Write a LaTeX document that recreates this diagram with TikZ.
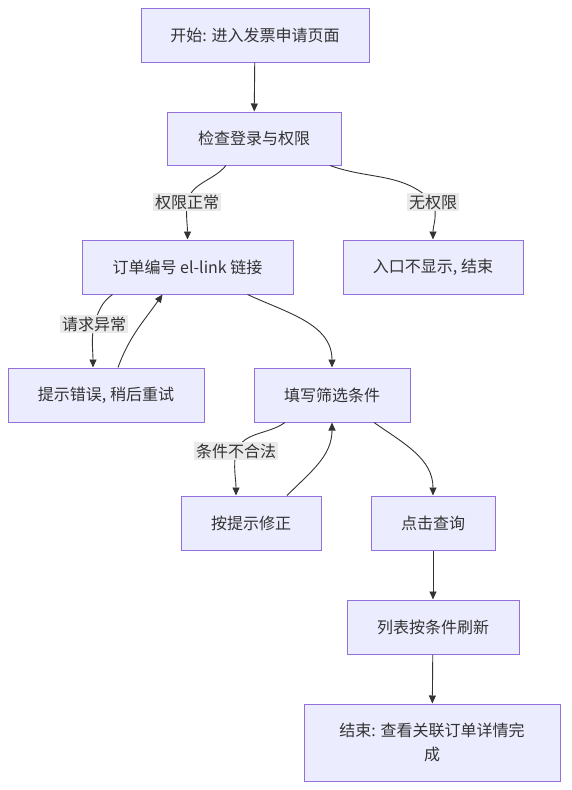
\documentclass[tikz,border=0pt]{standalone}
\usepackage{fontspec}
\setmainfont{Noto Sans CJK SC}
\usetikzlibrary{arrows.meta}
\definecolor{boxfill}{RGB}{236,236,255}
\definecolor{boxline}{RGB}{147,112,219}
\definecolor{lblbg}{RGB}{234,234,234}
\definecolor{linecol}{RGB}{51,51,51}
\begin{document}
\begin{tikzpicture}[x=1pt,y=1pt]
\tikzset{
box/.style={rectangle,draw=boxline,fill=boxfill,line width=1pt,inner sep=0pt,align=center,text=linecol},
lbl/.style={fill=lblbg,inner sep=2pt,text=linecol},
edge/.style={->,> = {Triangle[length=8pt,width=7pt]},color=linecol,line width=0.9pt},
font={\fontsize{16pt}{24pt}\selectfont}
}
\useasboundingbox (0,0) rectangle (571,-790);

\node[box,minimum width=228pt,minimum height=54pt] (start) at (255,-35) {开始: 进入发票申请页面};
\node[box,minimum width=174pt,minimum height=53pt] (check) at (254,-138.5) {检查登录与权限};
\node[box,minimum width=211pt,minimum height=54pt] (order) at (187.5,-267) {订单编号 el-link 链接};
\node[box,minimum width=180pt,minimum height=54pt] (noentry) at (433,-267) {入口不显示, 结束};
\node[box,minimum width=196pt,minimum height=54pt] (retry) at (106,-395) {提示错误, 稍后重试};
\node[box,minimum width=156pt,minimum height=54pt] (filter) at (332,-395) {填写筛选条件};
\node[box,minimum width=140pt,minimum height=54pt] (fix) at (251,-523) {按提示修正};
\node[box,minimum width=124pt,minimum height=54pt] (query) at (433,-523) {点击查询};
\node[box,minimum width=172pt,minimum height=54pt] (refresh) at (433,-627) {列表按条件刷新};
\node[box,minimum width=256pt,minimum height=77pt] (done) at (432,-742.5) {结束: 查看关联订单详情完\\成};

% label points
\coordinate (okPt) at (187,-202);
\coordinate (noPt) at (433,-202);
\coordinate (errPt) at (94,-324);
\coordinate (badPt) at (236,-451);

\draw[edge] ([xshift=-28pt]check.south) to[out=-130,in=75] (okPt) to[out=-95,in=90] (order.north);
\draw[edge] ([xshift=76pt]check.south) to[out=-20,in=135] (noPt) to[out=-70,in=90] (noentry.north);
\draw[edge] ([xshift=-75pt]order.south) to[out=-145,in=70] (errPt) to[out=-100,in=90] ([xshift=-13pt]retry.north);
\draw[edge] ([xshift=-47pt]filter.south) to[out=-145,in=65] (badPt) to[out=-100,in=90] ([xshift=-15pt]fix.north);

\path[edge]
 (start) edge (check)
 ([xshift=12pt]retry.north) edge[out=70,in=-125] ([xshift=-25pt]order.south)
 ([xshift=60pt]order.south) edge[out=-25,in=90] (filter.north)
 ([xshift=36pt]fix.north) edge[out=45,in=-90] (filter.south)
 ([xshift=42pt]filter.south) edge[out=-35,in=90] (query.north)
 (query) edge (refresh)
 (refresh) edge (done)
;

\node[lbl] (okLbl) at (okPt) {权限正常};
\node[lbl] (noLbl) at (noPt) {无权限};
\node[lbl] (errLbl) at (errPt) {请求异常};
\node[lbl] (badLbl) at (badPt) {条件不合法};
\end{tikzpicture}
\end{document}
